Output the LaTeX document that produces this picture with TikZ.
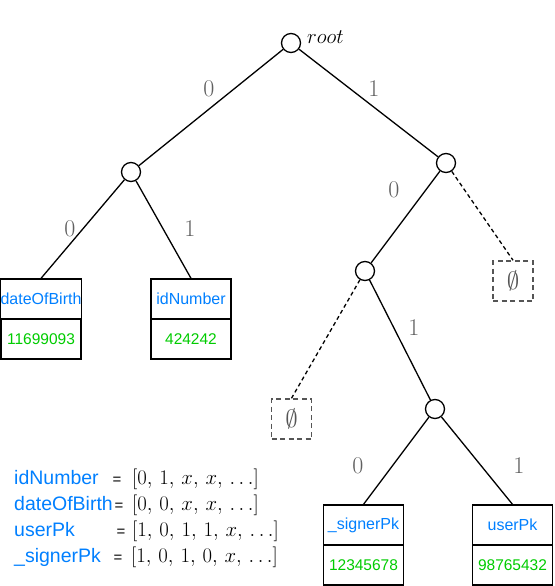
\documentclass[tikz,border=0pt]{standalone}
\usepackage{fontspec}
\newfontfamily\hv{Liberation Sans}
\definecolor{tblue}{HTML}{007FFF}
\definecolor{tgreen}{HTML}{00CC00}
\definecolor{lgray}{HTML}{606060}
\definecolor{dgray}{HTML}{555555}
\begin{document}
\begin{tikzpicture}[x=1pt,y=-1pt,
  vtx/.style={circle,draw,line width=1.3pt,minimum size=19pt,inner sep=0pt},
  edge/.style={line width=1.3pt},
  dedge/.style={line width=1.3pt,dash pattern=on 4pt off 3pt},
  keybox/.style={draw,line width=1.3pt,minimum width=80pt,minimum height=40pt,inner sep=0pt,font=\hv\fontsize{16}{18}\selectfont,text=tblue},
  valbox/.style={draw,line width=1.3pt,minimum width=80pt,minimum height=40pt,inner sep=0pt,font=\hv\fontsize{15.5}{18}\selectfont,text=tgreen},
  nullbox/.style={draw=dgray,line width=1.5pt,dash pattern=on 5pt off 3.5pt,minimum width=40pt,minimum height=40pt,inner sep=0pt,text=dgray,font=\fontsize{26}{30}\selectfont},
  elab/.style={text=lgray,font=\fontsize{24}{28}\selectfont,inner sep=0pt},
  lname/.style={anchor=base west,text=tblue,font=\hv\fontsize{19.5}{22}\selectfont,inner sep=0pt},
  leq/.style={anchor=base,font=\hv\fontsize{15}{18}\selectfont,inner sep=0pt},
  lmath/.style={anchor=base west,font=\fontsize{21}{24}\selectfont,inner sep=0pt}]
\useasboundingbox (0,0) rectangle (554,586);
% vertices
\node[vtx] (root) at (291,43) {};
\node[vtx] (L) at (131,172) {};
\node[vtx] (R) at (446,163) {};
\node[vtx] (RL) at (365,271) {};
\node[vtx] (RLR) at (435,409) {};
\node[anchor=west,inner sep=0pt,font=\fontsize{22}{26}\selectfont] (rootlab) at (307,37) {$root$};
% leaf boxes
\node[keybox] (dob) at (41,299) {dateOfBirth};
\node[valbox] (dobv) at (41,339) {11699093};
\node[keybox] (idn) at (191,299) {idNumber};
\node[valbox] (idnv) at (191,339) {424242};
\node[keybox] (sig) at (363.5,525) {\_signerPk};
\node[valbox] (sigv) at (363.5,565) {12345678};
\node[keybox] (upk) at (512.5,525) {userPk};
\node[valbox] (upkv) at (512.5,565) {98765432};
\node[nullbox] (n1) at (513,281) {$\emptyset$};
\node[nullbox] (n2) at (291.5,419) {$\emptyset$};
% edges
\draw[edge] (root) -- (L);
\draw[edge] (root) -- (R);
\draw[edge] (L) -- (dob.north);
\draw[edge] (L) -- (idn.north);
\draw[edge] (R) -- (RL);
\draw[dedge] (R) -- (n1.north);
\draw[dedge] (RL) -- (n2.north);
\draw[edge] (RL) -- (RLR);
\draw[edge] (RLR) -- (sig.north);
\draw[edge] (RLR) -- (upk.north);
% edge labels
\node[elab] (e1) at (209,89) {0};
\node[elab] (e2) at (374,89) {1};
\node[elab] (e3) at (70,229) {0};
\node[elab] (e4) at (190,229) {1};
\node[elab] (e5) at (394,190) {0};
\node[elab] (e6) at (414,328) {1};
\node[elab] (e7) at (358,466) {0};
\node[elab] (e8) at (519,466) {1};
% legend
\node[lname] (ln1) at (14,484) {idNumber};
\node[lname] (ln2) at (14,510) {dateOfBirth};
\node[lname] (ln3) at (14,536) {userPk};
\node[lname] (ln4) at (14,562) {\_signerPk};
\node[leq] (le1) at (117,484) {=};
\node[leq] (le2) at (119,510) {=};
\node[leq] (le3) at (121,536) {=};
\node[leq] (le4) at (118,562) {=};
\node[lmath] (lm1) at (132,484) {$[0,\,1,\,x,\,x,\,\ldots]$};
\node[lmath] (lm2) at (132,510) {$[0,\,0,\,x,\,x,\,\ldots]$};
\node[lmath] (lm3) at (132,536) {$[1,\,0,\,1,\,1,\,x,\,\ldots]$};
\node[lmath] (lm4) at (131,562) {$[1,\,0,\,1,\,0,\,x,\,\ldots]$};
\end{tikzpicture}
\end{document}
